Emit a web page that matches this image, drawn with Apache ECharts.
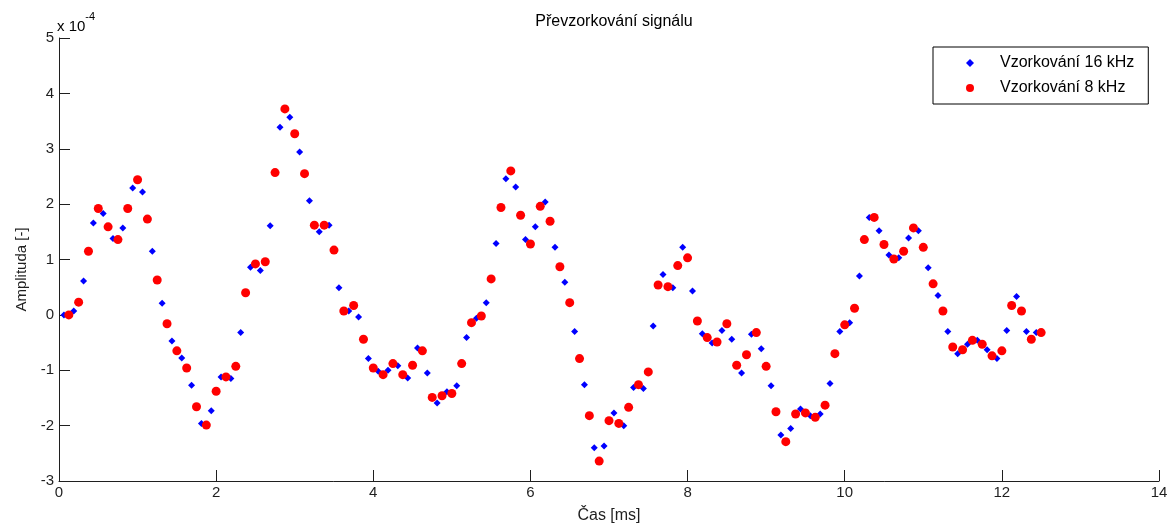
<!DOCTYPE html>
<html>
<head>
<meta charset="utf-8">
<script src="https://cdn.jsdelivr.net/npm/echarts@6/dist/echarts.min.js"></script>
<style>
  html, body { margin: 0; padding: 0; background: #fff; }
  #chart { width: 1175px; height: 529px; }
</style>
</head>
<body>
<div id="chart"></div>
<script>
// Amplitude values are in units of 1e-4 (axis shows "x 10^-4").
// 16 kHz samples visible at odd indices (even ones lie under the 8 kHz markers).
const fs16 = 16;   // kHz -> sample period 1/16 ms
const fs8 = 8;     // kHz -> sample period 1/8 ms

const blue16 = [
  0.00, 0.07, 0.61, 1.66, 1.83, 1.38, 1.57, 2.29, 2.22, 1.15,
  0.21, -0.47, -0.78, -1.27, -1.96, -1.73, -1.12, -1.15, -0.32, 0.86,
  0.80, 1.61, 3.39, 3.57, 2.94, 2.06, 1.50, 1.62, 0.49, 0.07,
  -0.04, -0.79, -1.02, -1.00, -0.92, -1.14, -0.60, -1.05, -1.59, -1.39,
  -1.28, -0.41, -0.06, 0.22, 1.29, 2.46, 2.31, 1.36, 1.59, 2.04,
  1.22, 0.59, -0.30, -1.26, -2.40, -2.37, -1.77, -2.00, -1.31, -1.33,
  -0.20, 0.73, 0.49, 1.22, 0.43, -0.34, -0.51, -0.28, -0.44, -1.05,
  -0.35, -0.61, -1.28, -2.17, -2.05, -1.70, -1.82, -1.79, -1.24, -0.30,
  -0.14, 0.70, 1.76, 1.52, 1.08, 1.03, 1.39, 1.52, 0.85, 0.35,
  -0.30, -0.70, -0.53, -0.46, -0.63, -0.79, -0.28, 0.33, -0.30, -0.32
];

const red8 = [
  0.00, 0.23, 1.15, 1.92, 1.59, 1.36, 1.92, 2.44, 1.73, 0.63,
  -0.16, -0.65, -0.96, -1.66, -1.99, -1.38, -1.12, -0.93, 0.40, 0.92,
  0.96, 2.57, 3.72, 3.27, 2.55, 1.62, 1.62, 1.17, 0.07, 0.17,
  -0.44, -0.96, -1.08, -0.88, -1.08, -0.91, -0.65, -1.49, -1.46, -1.42,
  -0.88, -0.14, -0.02, 0.65, 1.94, 2.60, 1.80, 1.28, 1.96, 1.69,
  0.87, 0.22, -0.79, -1.82, -2.64, -1.91, -1.96, -1.67, -1.26, -1.03,
  0.54, 0.51, 0.89, 1.03, -0.11, -0.41, -0.49, -0.16, -0.91, -0.72,
  -0.32, -0.93, -1.75, -2.29, -1.79, -1.77, -1.85, -1.63, -0.70, -0.18,
  0.12, 1.36, 1.76, 1.27, 1.01, 1.15, 1.57, 1.22, 0.56, 0.07,
  -0.58, -0.63, -0.46, -0.53, -0.74, -0.65, 0.17, 0.07, -0.44, -0.32
];

const xTicks = { min: 0, max: 14, interval: 2 };
const yTicks = { min: -3, max: 5, interval: 1 };

const names = ['Vzorkování 16 kHz', 'Vzorkování 8 kHz'];

const blueData = blue16.map((v, i) => [(2 * i + 1) / fs16, v]);
const redData = red8.map((v, i) => [(i + 1) / fs8, v]);

const FONT = '"Liberation Sans", Arial, Helvetica, sans-serif';
const AX = '#1f1f1f';

const chart = echarts.init(document.getElementById('chart'), null, { renderer: 'canvas' });
chart.setOption({
  backgroundColor: '#ffffff',
  animation: false,
  textStyle: { fontFamily: FONT },
  title: {
    text: 'Převzorkování signálu',
    left: 609,
    textAlign: 'center',
    top: 9,
    textStyle: { fontFamily: FONT, fontSize: 16, fontWeight: 'normal', color: '#000' }
  },
  graphic: [{
    type: 'text',
    left: 57,
    top: 11,
    style: {
      text: '{a|x 10}{b|-4}',
      rich: {
        a: { fontFamily: FONT, fontSize: 15, color: AX, padding: [8, 0, 0, 0] },
        b: { fontFamily: FONT, fontSize: 11, color: AX, verticalAlign: 'top' }
      }
    }
  }],
  legend: {
    orient: 'vertical',
    left: 933,
    top: 47,
    padding: [8, 14, 8, 33],
    itemGap: 9,
    itemWidth: 8,
    itemHeight: 8,
    borderColor: '#000',
    borderWidth: 1,
    backgroundColor: '#fff',
    data: [
      { name: names[0], icon: 'diamond' },
      { name: names[1], icon: 'circle' }
    ],
    textStyle: { fontFamily: FONT, fontSize: 16, color: '#000', lineHeight: 16, padding: [0, 0, 0, 21] }
  },
  grid: { left: 59, right: 16, top: 38, bottom: 46, containLabel: false },
  xAxis: {
    type: 'value',
    min: xTicks.min, max: xTicks.max, interval: xTicks.interval,
    name: 'Čas [ms]',
    nameLocation: 'middle',
    nameGap: 27,
    nameTextStyle: { fontFamily: FONT, fontSize: 16, color: AX },
    axisLine: { show: true, onZero: false, lineStyle: { color: AX, width: 1 } },
    axisTick: { show: true, inside: true, length: 11, lineStyle: { color: AX } },
    axisLabel: { fontFamily: FONT, fontSize: 15, color: AX, margin: 4 },
    splitLine: { show: false }
  },
  yAxis: {
    type: 'value',
    min: yTicks.min, max: yTicks.max, interval: yTicks.interval,
    name: 'Amplituda [-]',
    nameLocation: 'middle',
    nameGap: 30,
    nameTextStyle: { fontFamily: FONT, fontSize: 15, color: AX, padding: [0, 20, 0, 0] },
    axisLine: { show: true, onZero: false, lineStyle: { color: AX, width: 1 } },
    axisTick: { show: true, inside: true, length: 11, lineStyle: { color: AX } },
    axisLabel: { fontFamily: FONT, fontSize: 15, color: AX, margin: 5 },
    splitLine: { show: false }
  },
  series: [
    {
      name: names[0],
      type: 'scatter',
      symbol: 'diamond',
      symbolSize: 7,
      itemStyle: { color: '#0000ff', opacity: 1 },
      data: blueData
    },
    {
      name: names[1],
      type: 'scatter',
      symbol: 'circle',
      symbolSize: 9,
      itemStyle: { color: '#ff0000', opacity: 1 },
      data: redData
    }
  ]
});
</script>
</body>
</html>
